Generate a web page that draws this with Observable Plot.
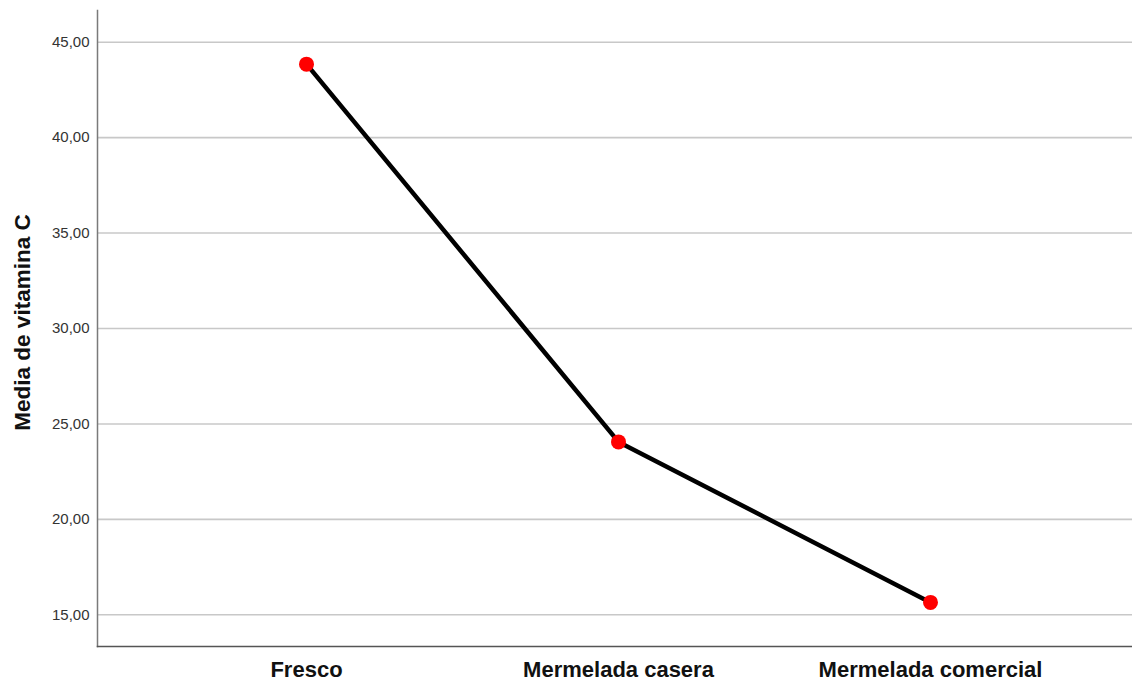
<!DOCTYPE html>
<html><head><meta charset="utf-8">
<script src="https://cdn.jsdelivr.net/npm/d3@7"></script>
<script src="https://cdn.jsdelivr.net/npm/@observablehq/plot@0.6"></script>
<style>body{margin:0;background:#fff;font-family:"Liberation Sans",Arial,sans-serif}</style>
</head><body><div id="chart"></div>
<script>
const categories = ["Fresco", "Mermelada casera", "Mermelada comercial"];
const means = [43.85, 24.06, 15.65];
const yTicks = [15, 20, 25, 30, 35, 40, 45];
const yLabel = "Media de vitamina C";

const data = categories.map((c, i) => ({cat: c, v: means[i]}));
const fmt = d => d.toFixed(2).replace(".", ",");

const chart = Plot.plot({
  width: 1132, height: 683,
  marginLeft: 97, marginRight: 0, marginTop: 10, marginBottom: 37,
  style: {fontFamily: "'Liberation Sans', Arial, sans-serif", background: "#fff"},
  x: {type: "point", domain: categories, range: [305, 930], padding: 0},
  y: {domain: [13.34, 46.66]},
  marks: [
    Plot.gridY(yTicks, {stroke: "#c8c8c8", strokeOpacity: 1, strokeWidth: 1.6}),
    Plot.frame({anchor: "left", stroke: "#7a7a7a", strokeWidth: 1.5}),
    Plot.frame({anchor: "bottom", stroke: "#555", strokeWidth: 1.5}),
    Plot.axisY(yTicks, {tickSize: 0, tickPadding: 8, tickFormat: fmt, fontSize: 15, fill: "#333", label: null}),
    Plot.axisX({tickSize: 0, tickPadding: 15, fontSize: 22, fontWeight: "bold", fill: "#111", label: null}),
    Plot.text([yLabel], {frameAnchor: "left", textAnchor: "middle", rotate: -90, dx: -75, dy: -6, fontSize: 22.5, fontWeight: "bold", fill: "#111"}),
    Plot.line(data, {x: "cat", y: "v", stroke: "#000", strokeWidth: 4.5}),
    Plot.dot(data, {x: "cat", y: "v", r: 7.5, fill: "#ff0000", stroke: "none"})
  ]
});
document.getElementById("chart").append(chart);
</script></body></html>
